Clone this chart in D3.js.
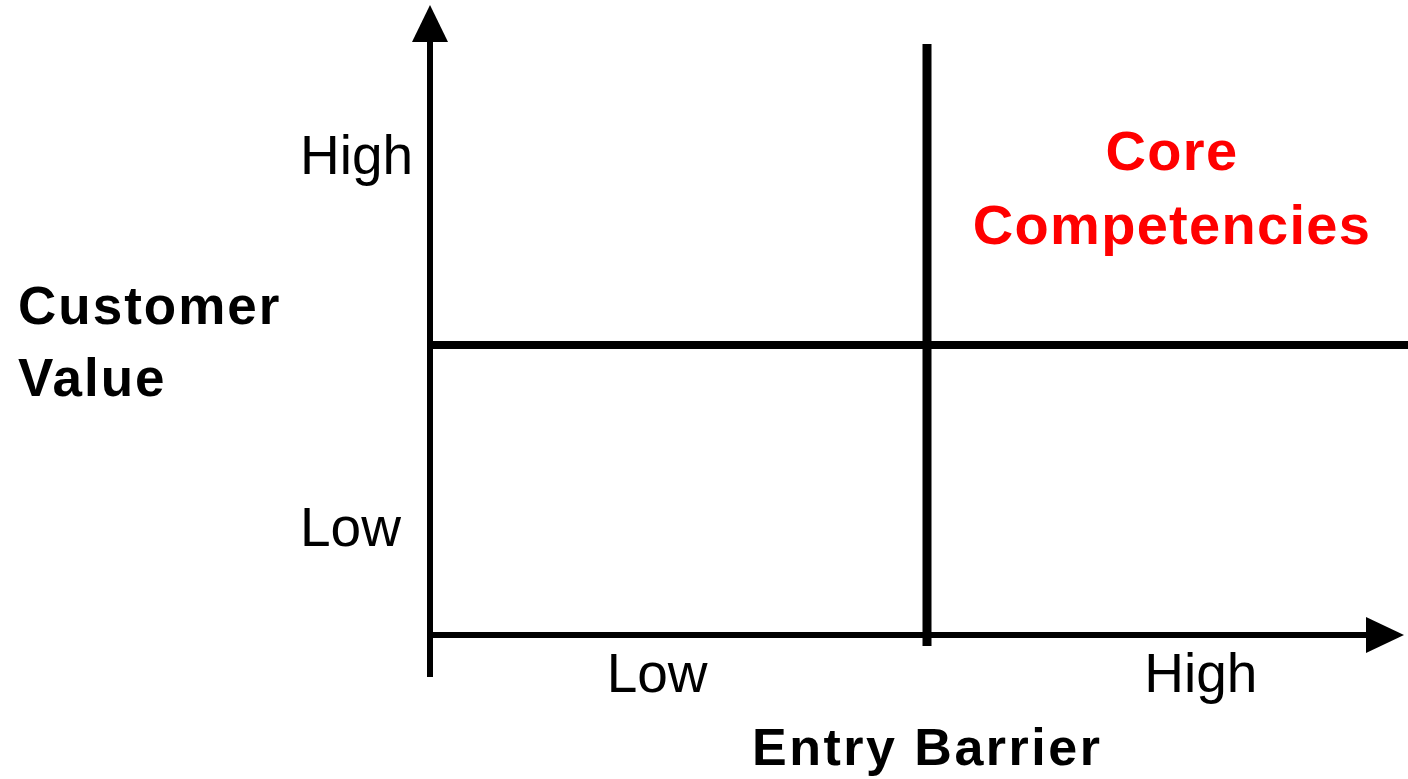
<!DOCTYPE html>
<html>
<head>
<meta charset="utf-8">
<script src="https://cdn.jsdelivr.net/npm/d3@7"></script>
<style>
    body { margin: 0; background: #fff; }
    svg { display: block; font-family: "Liberation Sans", Arial, sans-serif; }
</style>
</head>
<body>
<div id="chart"></div>
<script>
(function () {
    "use strict";

    // axis categories and where they sit along each axis (0..2 domain, split at 1)
    var xCategories = ["Low", "High"];
    var xCategoryPos = [0.457, 1.551];
    var yCategories = ["Low", "High"];
    var yCategoryPos = [0.372, 1.655];
    var xTitle = "Entry Barrier";
    var yTitle = ["Customer", "Value"];
    var quadrantLabel = ["Core", "Competencies"];
    var split = 1;

    var width = 1408, height = 779;

    var svg = d3.select("#chart")
        .append("svg")
        .attr("width", width)
        .attr("height", height);

    var x = d3.scaleLinear().domain([0, 2]).range([430, 1424]);
    var y = d3.scaleLinear().domain([0, 2]).range([635, 55]);

    // axes with arrowheads
    svg.append("line")
        .attr("x1", x(0)).attr("x2", x(0))
        .attr("y1", 677).attr("y2", 40)
        .attr("stroke", "#000").attr("stroke-width", 6);
    svg.append("path")
        .attr("d", "M" + x(0) + ",5 L" + (x(0) - 18) + ",42 L" + (x(0) + 18) + ",42 Z")
        .attr("fill", "#000");

    svg.append("line")
        .attr("x1", x(0)).attr("x2", 1368)
        .attr("y1", y(0)).attr("y2", y(0))
        .attr("stroke", "#000").attr("stroke-width", 6);
    svg.append("path")
        .attr("d", "M1404," + y(0) + " L1366," + (y(0) - 18) + " L1366," + (y(0) + 18) + " Z")
        .attr("fill", "#000");

    // quadrant dividers
    svg.append("line")
        .attr("x1", x(split)).attr("x2", x(split))
        .attr("y1", 44).attr("y2", 646)
        .attr("stroke", "#000").attr("stroke-width", 9);
    svg.append("line")
        .attr("x1", x(0)).attr("x2", width)
        .attr("y1", y(split)).attr("y2", y(split))
        .attr("stroke", "#000").attr("stroke-width", 8);

    // category labels
    svg.selectAll(".xcat")
        .data(xCategories)
        .enter()
        .append("text")
        .attr("class", "xcat")
        .attr("x", function (d, i) { return x(xCategoryPos[i]); })
        .attr("y", 692)
        .attr("text-anchor", "middle")
        .style("font-size", "55px")
        .text(function (d) { return d; });

    svg.selectAll(".ycat")
        .data(yCategories)
        .enter()
        .append("text")
        .attr("class", "ycat")
        .attr("x", 300)
        .attr("y", function (d, i) { return y(yCategoryPos[i]); })
        .attr("dy", "0.35em")
        .style("font-size", "55px")
        .text(function (d) { return d; });

    // axis titles
    svg.append("text")
        .attr("x", 752)
        .attr("y", 765)
        .style("font-size", "52px")
        .style("font-weight", "bold")
        .style("letter-spacing", "2.5px")
        .text(xTitle);

    svg.selectAll(".ytitle")
        .data(yTitle)
        .enter()
        .append("text")
        .attr("class", "ytitle")
        .attr("x", 18)
        .attr("y", function (d, i) { return 324 + i * 72; })
        .style("font-size", "53px")
        .style("font-weight", "bold")
        .style("letter-spacing", "2px")
        .text(function (d) { return d; });

    // highlighted quadrant
    svg.selectAll(".quad")
        .data(quadrantLabel)
        .enter()
        .append("text")
        .attr("class", "quad")
        .attr("x", 1172)
        .attr("y", function (d, i) { return 170 + i * 74; })
        .attr("text-anchor", "middle")
        .attr("fill", "#ff0000")
        .style("font-size", "56px")
        .style("font-weight", "bold")
        .style("letter-spacing", "1.3px")
        .text(function (d) { return d; });
})();
</script>
</body>
</html>
